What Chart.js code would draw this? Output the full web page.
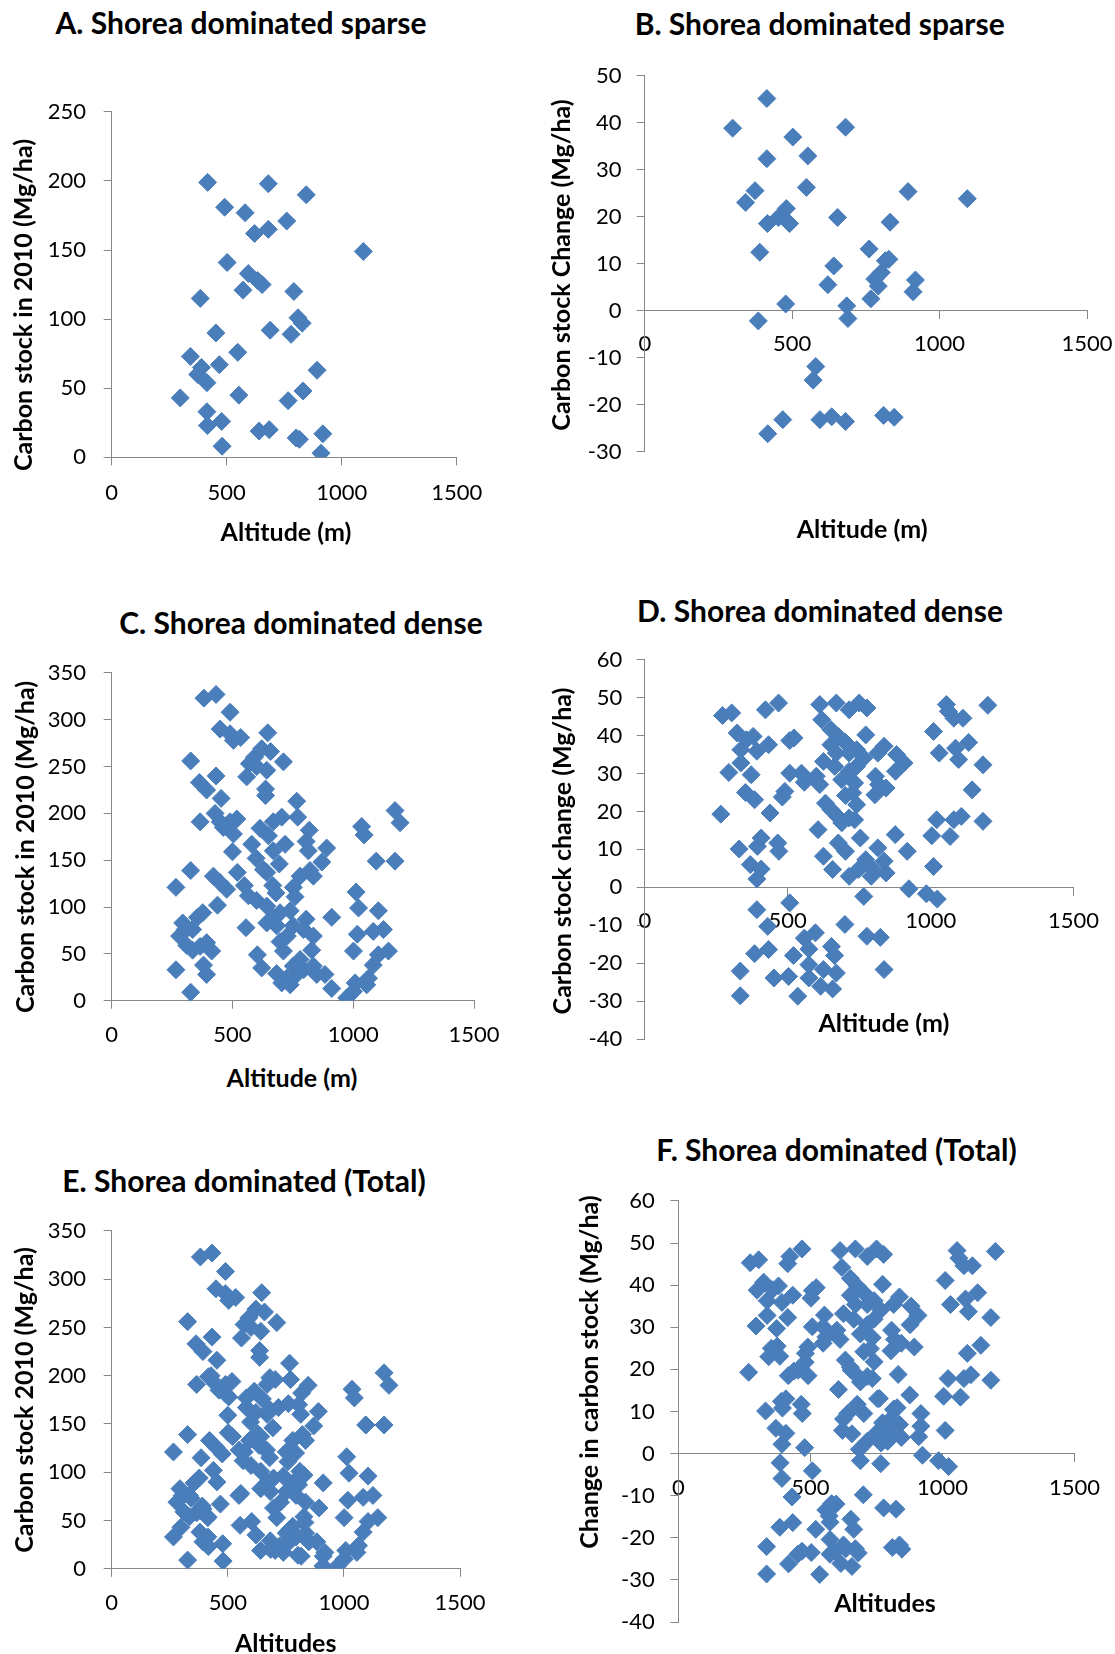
<!DOCTYPE html>
<html>
<head>
<meta charset="utf-8">
<title>Shorea dominated forest - carbon stock and altitude</title>
<script src="https://cdn.jsdelivr.net/npm/chart.js@4.4.1/dist/chart.umd.min.js"></script>
<style>
  html, body { margin: 0; padding: 0; background: #fff; }
  body { position: relative; width: 1115px; height: 1654px; overflow: hidden; font-family: Lato, "Open Sans", sans-serif; }
  canvas { position: absolute; }
  .label { position: absolute; font-weight: bold; color: #000; white-space: nowrap; text-align: center; }
  .panel-title { font-size: 30px; line-height: 34px; width: 600px; }
  .axis-title { font-size: 25px; line-height: 30px; width: 500px; }
  .axis-title.vertical { font-size: 25px; transform: rotate(-90deg); }
</style>
</head>
<body>
<script>
// Sparse plots (panels A and B), ordered by altitude
const sparseAltitude = [298, 342, 374, 385, 390, 414, 414, 416, 417, 453, 468, 478, 480, 491, 502,
  548, 553, 571, 580, 594, 621, 634, 641, 654, 681, 681, 685, 689, 761, 767, 780, 792, 802, 810,
  816, 828, 832, 846, 893, 910, 918, 1094];
const sparseStock2010 = [43, 73, 60, 115, 65, 54, 33, 23, 199, 90, 67, 26, 8, 181, 141,
  76, 45, 121, 177, 133, 162, 128, 19, 125, 198, 165, 20, 92, 171, 41, 89, 120, 14, 101,
  13, 97, 48, 190, 63, 3, 17, 149];
const sparseStockChange = [38.8, 23, 25.5, -2.2, 12.4, 45.1, 32.3, 18.5, -26.2, 19.8, -23.2, 1.4, 21.7, 18.5, 36.9,
  26.2, 32.9, -14.8, -11.9, -23.2, 5.5, -22.6, 9.5, 19.8, -23.6, 39, 1.0, -1.7, 13.1, 2.5, 6.7, 5.2, 8.1, -22.3,
  10.6, 10.9, 18.8, -22.7, 25.3, 4.0, 6.5, 23.8];

// Dense plots, stock in 2010 (panel C)
const denseAltitudeC = [382, 432, 490, 449, 490, 504, 534, 646, 327, 432,
  363, 393, 453, 366, 570, 591, 621, 658, 600, 642,
  711, 559, 637, 637, 766, 770, 428, 449, 462, 490,
  518, 504, 704, 669, 614, 649, 580, 500, 598, 669,
  718, 818, 805, 814, 890, 870, 1035, 1045, 1095, 1173,
  1194, 1173, 327, 421, 449, 476, 520, 549, 566, 600,
  628, 642, 667, 694, 780, 752, 821, 835, 759, 680,
  266, 438, 377, 355, 1012, 1022, 1104, 911, 642, 669,
  697, 739, 642, 683, 752, 805, 794, 835, 828, 697,
  711, 727, 556, 294, 304, 335, 281, 311, 335, 366,
  393, 414, 380, 393, 266, 327, 603, 621, 1001, 1017,
  1083, 1125, 1146, 1104, 1083, 1063, 1056, 1008, 1001, 973,
  911, 683, 704, 725, 739, 752, 780, 794, 835, 849,
  883, 766];
const denseStock2010 = [323, 327, 308, 290, 285, 278, 281, 286, 256, 240,
  233, 225, 216, 191, 253, 260, 269, 266, 250, 246,
  255, 239, 226, 219, 213, 196, 200, 191, 185, 191,
  194, 178, 196, 191, 184, 176, 167, 159, 152, 160,
  167, 182, 170, 160, 163, 148, 186, 177, 149, 203,
  190, 149, 139, 133, 126, 119, 137, 123, 112, 107,
  140, 137, 123, 146, 133, 121, 139, 133, 111, 115,
  121, 102, 94, 89, 116, 99, 96, 89, 101, 89,
  94, 96, 83, 80, 80, 87, 76, 69, 54, 63,
  53, 69, 78, 83, 76, 76, 69, 59, 54, 58,
  62, 53, 38, 28, 33, 9, 49, 35, 53, 71,
  74, 76, 53, 49, 38, 24, 17, 19, 10, 3,
  13, 29, 19, 24, 17, 37, 44, 33, 37, 28,
  28, 28];

// Dense plots, stock change (panel D)
const denseAltitudeD = [272, 304, 422, 468, 323, 356, 379, 336, 392, 433,
  336, 294, 372, 507, 522, 507, 548, 558, 612, 600,
  352, 384, 481, 490, 266, 438, 330, 407, 394, 465,
  469, 369, 407, 392, 507, 392, 430, 384, 433, 520,
  558, 597, 574, 574, 653, 664, 334, 334, 452, 503,
  535, 574, 625, 670, 615, 657, 700, 777, 824, 837,
  766, 924, 985, 1023, 612, 670, 715, 750, 777, 619,
  651, 677, 702, 651, 670, 715, 741, 773, 837, 815,
  766, 881, 907, 877, 625, 664, 715, 741, 689, 734,
  727, 702, 807, 818, 844, 805, 632, 651, 674, 689,
  715, 734, 741, 606, 677, 702, 754, 625, 657, 715,
  747, 773, 799, 792, 815, 837, 844, 876, 918, 1010,
  1055, 1062, 1081, 1113, 1030, 1087, 1098, 1133, 1200, 1183,
  1145, 1183, 1107, 1081, 1021, 1004, 1068, 1010];
const denseStockChange = [45.3, 46, 46.8, 48.6, 40.7, 38.9, 39.8, 36.3, 35.9, 37.6,
  32.8, 30.3, 29.7, 38.7, 39.4, 30.1, 30.1, 27.7, 27.1, 29.3,
  25, 23.1, 23.8, 25.3, 19.3, 19.6, 10.1, 13, 10.8, 11.7,
  9.5, 6, 4.8, 2.2, -4.1, -5.9, -10.3, -17.5, -16.4, -18,
  -13.4, -12, -16.3, -20.4, -15.6, -18, -22.1, -28.6, -23.9, -23.5,
  -28.7, -23.9, -21.7, -22.6, -26.1, -26.8, -9.8, -12.9, -13.2, -21.7,
  -2.4, -0.4, -1.7, -3.1, 48.2, 48.6, 46.8, 48.6, 47.3, 44.2,
  41.6, 39.8, 38.2, 37.6, 35.4, 35.4, 36.3, 40.2, 37.2, 35.4,
  34.1, 35, 32.8, 30.6, 33.2, 31.9, 30.6, 31.9, 28.4, 27.5,
  24.9, 24.2, 29.3, 27.1, 26.2, 24.4, 22.2, 20.5, 18.7, 17,
  18.3, 17.8, 21.8, 15.2, 11.7, 9.5, 13, 8.2, 4.7, 2.9,
  4.7, 7.3, 4.7, 2.9, 10.4, 6.9, 3.8, 13.9, 9.5, 41.1,
  48.2, 46.4, 44.6, 44.6, 35.4, 36.7, 33.7, 38.2, 48, 32.3,
  25.7, 17.4, 18.7, 17.8, 17.8, 13.6, 13.4, 5.5];

// Tick labels
const altitudeTicks = [0, 500, 1000, 1500];
const sparseStockTicks = [0, 50, 100, 150, 200, 250];
const denseStockTicks = [0, 50, 100, 150, 200, 250, 300, 350];
const sparseChangeTicks = [-30, -20, -10, 0, 10, 20, 30, 40, 50];
const denseChangeTicks = [-40, -30, -20, -10, 0, 10, 20, 30, 40, 50, 60];

const MARKER = '#4A7EBB';
const AXIS = '#868686';

Chart.defaults.font.family = 'Lato, "Open Sans", sans-serif';
Chart.defaults.color = '#000';

// plot = [left, top, right, bottom] of the plot area on the page
const panels = [
  {
    title: 'A. Shorea dominated sparse', yTitle: 'Carbon stock in 2010 (Mg/ha)', xTitle: 'Altitude (m)',
    x: sparseAltitude, y: sparseStock2010, yTicks: sparseStockTicks, zeroAxis: false,
    plot: [111.7, 101.8, 456.7, 457.3], yPad: 17.7, xPad: 14.2,
    titleAt: [241, 22], yTitleAt: [22, 305], xTitleAt: [286, 530.8]
  },
  {
    title: 'B. Shorea dominated sparse', yTitle: 'Carbon stock Change (Mg/ha)', xTitle: 'Altitude (m)',
    x: sparseAltitude, y: sparseStockChange, yTicks: sparseChangeTicks, zeroAxis: true,
    plot: [644.8, 67.9, 1087, 451.6], yPad: 15.3, xPad: 11.8,
    titleAt: [819.7, 22.7], yTitleAt: [560, 265], xTitleAt: [862.2, 527.5]
  },
  {
    title: 'C. Shorea dominated dense', yTitle: 'Carbon stock in 2010 (Mg/ha)', xTitle: 'Altitude (m)',
    x: denseAltitudeC, y: denseStock2010, yTicks: denseStockTicks, zeroAxis: false,
    plot: [111.7, 662.3, 474, 1000.7], yPad: 17.7, xPad: 13.1,
    titleAt: [301, 621.7], yTitleAt: [24, 847], xTitleAt: [292, 1076.7]
  },
  {
    title: 'D. Shorea dominated dense', yTitle: 'Carbon stock change (Mg/ha)', xTitle: 'Altitude (m)',
    x: denseAltitudeD, y: denseStockChange, yTicks: denseChangeTicks, zeroAxis: true,
    plot: [644.8, 652.6, 1073.6, 1039], yPad: 14.6, xPad: 12.4,
    titleAt: [820, 610], yTitleAt: [560.7, 851], xTitleAt: [883.9, 1021.7]
  },
  {
    title: 'E. Shorea dominated (Total)', yTitle: 'Carbon stock 2010 (Mg/ha)', xTitle: 'Altitudes',
    x: sparseAltitude.concat(denseAltitudeC), y: sparseStock2010.concat(denseStock2010),
    yTicks: denseStockTicks, zeroAxis: false,
    plot: [111.7, 1220.5, 460, 1568.8], yPad: 17.7, xPad: 12.8,
    titleAt: [244, 1180], yTitleAt: [23.3, 1400], xTitleAt: [285.7, 1642]
  },
  {
    title: 'F. Shorea dominated (Total)', yTitle: 'Change in carbon stock  (Mg/ha)', xTitle: 'Altitudes',
    x: sparseAltitude.concat(denseAltitudeD), y: sparseStockChange.concat(denseStockChange),
    yTicks: denseChangeTicks, zeroAxis: true,
    plot: [678.4, 1192.7, 1074.6, 1622], yPad: 15.7, xPad: 13.5,
    titleAt: [836.5, 1149.3], yTitleAt: [587.7, 1372], xTitleAt: [885, 1601.7]
  }
];

function addText(text, cls, at) {
  const el = document.createElement('div');
  el.className = 'label ' + cls;
  el.textContent = text;
  document.body.appendChild(el);
  el.style.left = (at[0] - el.offsetWidth / 2) + 'px';
  el.style.top = (at[1] - el.offsetHeight / 2) + 'px';
}

function tickScale(ticks) {
  return {
    min: ticks[0],
    max: ticks[ticks.length - 1],
    afterBuildTicks: s => { s.ticks = ticks.map(v => ({ value: v })); }
  };
}

function buildPanel(p) {
  const [left, top, right, bottom] = p.plot;
  const cx = Math.floor(left) - 100;
  const cy = Math.floor(top) - 20;
  const cw = Math.ceil(right) + 50 - cx;
  const ch = Math.ceil(bottom) + 60 - cy;

  const canvas = document.createElement('canvas');
  canvas.width = cw;
  canvas.height = ch;
  canvas.style.left = cx + 'px';
  canvas.style.top = cy + 'px';
  document.body.appendChild(canvas);

  const grid = { drawOnChartArea: false, drawTicks: true, tickLength: 8, color: AXIS, lineWidth: 1 };
  const border = { display: true, color: AXIS, width: 1 };

  new Chart(canvas, {
    type: 'scatter',
    data: {
      datasets: [{
        data: p.x.map((x, i) => ({ x: x, y: p.y[i] })),
        pointStyle: 'rectRot',
        pointRadius: 9,
        pointHoverRadius: 9,
        backgroundColor: MARKER,
        borderColor: MARKER,
        borderWidth: 1
      }]
    },
    options: {
      responsive: false,
      animation: false,
      events: [],
      layout: {
        padding: { left: 0, top: top - cy, right: cx + cw - right, bottom: p.zeroAxis ? cy + ch - bottom : 0 }
      },
      plugins: { legend: { display: false }, tooltip: { enabled: false } },
      scales: {
        x: Object.assign(tickScale(altitudeTicks), {
          type: 'linear',
          position: p.zeroAxis ? { y: 0 } : 'bottom',
          grid: grid,
          border: border,
          ticks: { padding: p.xPad, maxRotation: 0, font: { size: 22 }, callback: v => String(v) },
          afterFit: s => { if (!p.zeroAxis) s.height = cy + ch - bottom; }
        }),
        y: Object.assign(tickScale(p.yTicks), {
          type: 'linear',
          position: 'left',
          grid: grid,
          border: border,
          ticks: { padding: p.yPad, font: { size: 22 }, callback: v => String(v) },
          afterFit: s => { s.width = left - cx; }
        })
      }
    }
  });

  addText(p.title, 'panel-title', p.titleAt);
  addText(p.yTitle, 'axis-title vertical', p.yTitleAt);
  addText(p.xTitle, 'axis-title', p.xTitleAt);
}

panels.forEach(buildPanel);
</script>
</body>
</html>
